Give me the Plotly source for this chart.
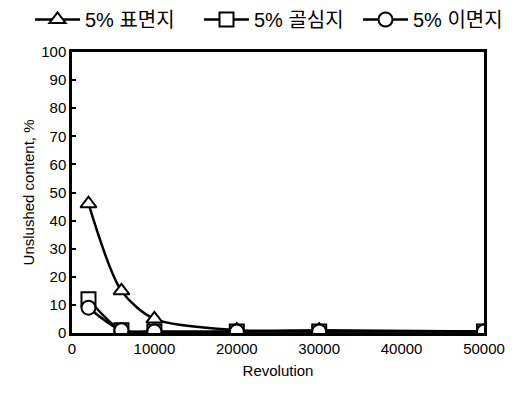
import plotly.graph_objects as go

revolution = [2000, 6000, 10000, 20000, 30000, 50000]
surface = [46, 15, 5, 1, 1, 0.5]
core = [12, 1, 0.5, 0.5, 0.5, 0.5]
back = [9, 1, 0.5, 0.5, 0.5, 0.5]
names = ["5% 표면지", "5% 골심지", "5% 이면지"]
symbols = ["triangle-up", "square", "circle"]
legend_ids = ["legend", "legend2", "legend3"]
legend_x = [30, 199, 358]
x_ticks = [0, 10000, 20000, 30000, 40000, 50000]
y_ticks = list(range(0, 101, 10))

W, H = 517, 393
fig = go.Figure()
for name, ys, sym, lg in zip(names, [surface, core, back], symbols, legend_ids):
    fig.add_trace(go.Scatter(
        x=revolution, y=ys, name=name, mode="lines+markers", legend=lg,
        line=dict(color="black", width=2.5, shape="spline", smoothing=0.8),
        marker=dict(symbol=sym, size=14, color="white",
                    line=dict(color="black", width=2)),
    ))

font = "Liberation Sans, Arial, Noto Sans CJK KR"
legend_style = dict(orientation="h", xanchor="left", y=1.0, yanchor="top",
                    yref="container", xref="container",
                    font=dict(size=20, family="Liberation Sans, Noto Sans CJK KR"),
                    itemwidth=45, bgcolor="rgba(0,0,0,0)")
fig.update_layout(
    width=W, height=H,
    margin=dict(l=72, r=33, t=52, b=60, autoexpand=False),
    paper_bgcolor="white", plot_bgcolor="white",
    font=dict(family=font, size=15, color="black"),
    showlegend=True,
    xaxis=dict(range=[0, 50000], tickvals=x_ticks, ticktext=[str(v) for v in x_ticks],
               showgrid=False, zeroline=False, showline=True, linecolor="black", linewidth=2.5,
               mirror=True, ticks="", title=dict(text="Revolution", font=dict(size=15), standoff=10),
               tickfont=dict(size=15)),
    yaxis=dict(range=[0, 100], tickvals=y_ticks, showgrid=False, zeroline=False, showline=True,
               linecolor="black", linewidth=2.5, mirror=True, ticks="inside", ticklen=4,
               tickwidth=2, tickcolor="black",
               title=dict(text="Unslushed content, %", font=dict(size=15), standoff=3),
               tickfont=dict(size=15)),
)
for lg, lx in zip(legend_ids, legend_x):
    fig.update_layout({lg: dict(legend_style, x=lx / W)})
fig.write_html("out.html")
